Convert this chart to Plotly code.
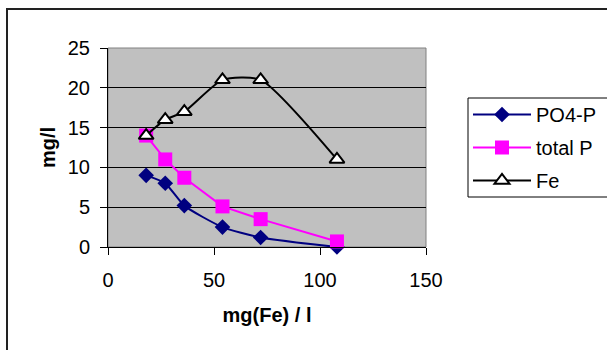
import plotly.graph_objects as go

# Iron dose (mg Fe per litre) and measured concentrations
fe_dose = [18, 27, 36, 54, 72, 108]
po4_p = [9.0, 8.0, 5.2, 2.5, 1.2, 0.0]
total_p = [14.0, 11.0, 8.7, 5.1, 3.5, 0.7]
fe_conc = [14, 16, 17, 21, 21, 11]

x_ticks = [0, 50, 100, 150]
y_ticks = [0, 5, 10, 15, 20, 25]

W, H = 607, 350
L, R, T, B = 108, 181, 48, 103
pw, ph = W - L - R, H - T - B


def px_x(p):
    return (p - L) / pw


def px_y(p):
    return (H - B - p) / ph


FONT = "Liberation Sans, Arial, sans-serif"

fig = go.Figure()
fig.add_trace(go.Scatter(
    x=fe_dose, y=po4_p, name="PO4-P", legendgroup="a",
    mode="lines+markers", line=dict(color="#000080", width=2, shape="spline", smoothing=0.6),
    marker=dict(symbol="diamond", size=12, color="#000080"), cliponaxis=False))
fig.add_trace(go.Scatter(
    x=fe_dose, y=total_p, name="total P", legendgroup="b",
    mode="lines+markers", line=dict(color="#FF00FF", width=2),
    marker=dict(symbol="square", size=14, color="#FF00FF"), cliponaxis=False))
fig.add_trace(go.Scatter(
    x=fe_dose, y=fe_conc, name="Fe", legendgroup="c",
    mode="lines+markers", line=dict(color="#000000", width=2, shape="spline", smoothing=0.6),
    marker=dict(symbol="triangle-up", size=13, color="white",
                line=dict(color="black", width=2)), cliponaxis=False))

shapes = [
    # plot-area frame (grey)
    dict(type="rect", xref="paper", yref="paper", x0=0, x1=1, y0=0, y1=1,
         line=dict(color="#808080", width=1), layer="below"),
    # outer chart frame
    dict(type="rect", xref="paper", yref="paper",
         x0=px_x(7), x1=px_x(W + 20), y0=px_y(H + 20), y1=px_y(9),
         line=dict(color="#222222", width=2)),
    # legend box
    dict(type="rect", xref="paper", yref="paper",
         x0=px_x(468), x1=px_x(W + 20), y0=px_y(197), y1=px_y(98),
         line=dict(color="#000000", width=1)),
]

fig.update_layout(
    width=W, height=H,
    margin=dict(l=L, r=R, t=T, b=B, pad=0, autoexpand=False),
    paper_bgcolor="white", plot_bgcolor="#C0C0C0",
    font=dict(family=FONT, size=20, color="black"),
    shapes=shapes,
    showlegend=True,
    legend=dict(x=px_x(468), y=px_y(95), xanchor="left", yanchor="top",
                bgcolor="rgba(0,0,0,0)", borderwidth=0,
                font=dict(family=FONT, size=20),
                traceorder="grouped", tracegroupgap=4, itemwidth=58),
    xaxis=dict(range=[0, 150], tickvals=x_ticks, showgrid=False, zeroline=False,
               showline=True, linecolor="black", linewidth=1,
               ticks="outside", ticklen=7, tickcolor="black",
               ticklabelstandoff=8,
               title=dict(text="<b>mg(Fe) / l</b>", standoff=17,
                          font=dict(family=FONT, size=20))),
    yaxis=dict(range=[0, 25], tickvals=y_ticks, showgrid=True, gridcolor="black",
               gridwidth=1, zeroline=False,
               showline=True, linecolor="black", linewidth=1,
               ticks="outside", ticklen=7, tickcolor="black",
               ticklabelstandoff=6,
               title=dict(text="<b>mg/l</b>", standoff=6,
                          font=dict(family=FONT, size=20))),
)

fig.write_html("out.html")
